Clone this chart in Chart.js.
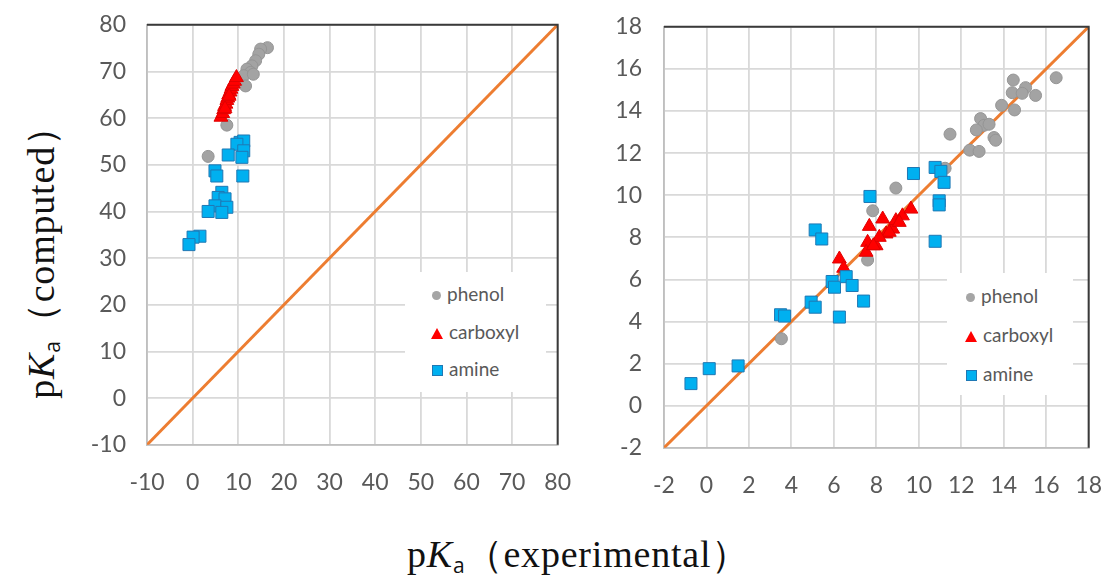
<!DOCTYPE html>
<html>
<head>
<meta charset="utf-8">
<script src="https://cdn.jsdelivr.net/npm/chart.js@4"></script>
<style>
  body { margin: 0; background: #fff; }
  #wrap { position: relative; width: 1107px; height: 579px; overflow: hidden; }
  canvas { position: absolute; top: 0; }
  .legend { position: absolute; background: #fff; font-family: Lato, sans-serif; font-size: 19px; color: #595959; z-index: 2; }
  .legend div { position: absolute; white-space: nowrap; line-height: 20px; }
  .mk { display: inline-block; vertical-align: middle; margin-right: 6px; position: relative; top: -1px; }
  .dot { width: 9px; height: 9px; border-radius: 50%; background: #a5a5a5; }
  .tri { width: 0; height: 0; border-left: 6px solid transparent; border-right: 6px solid transparent; border-bottom: 11px solid #ff0000; }
  .sq { width: 9px; height: 9px; background: #00b0f0; border: 1px solid #1f78b4; }
  .ttl { position: absolute; font-family: "Liberation Serif", serif; font-size: 38px; letter-spacing: 0.8px; line-height: 1; color: #111; white-space: nowrap; }
  .ttl sub { font-family: "Open Sans", sans-serif; font-size: 21px; vertical-align: -6px; letter-spacing: 0; }
</style>
</head>
<body>
<div id="wrap">
  <canvas id="left" width="500" height="520"></canvas>
  <canvas id="right" width="520" height="520"></canvas>

  <div class="legend" style="left:405px; top:272px; width:141px; height:120px">
    <div style="left:27px; top:12px"><span class="mk dot"></span>phenol</div>
    <div style="left:26px; top:50px"><span class="mk tri"></span>carboxyl</div>
    <div style="left:27px; top:87px"><span class="mk sq"></span>amine</div>
  </div>
  <div class="legend" style="left:947px; top:273px; width:126px; height:122px">
    <div style="left:19px; top:13px"><span class="mk dot"></span>phenol</div>
    <div style="left:18px; top:52px"><span class="mk tri"></span>carboxyl</div>
    <div style="left:19px; top:91px"><span class="mk sq"></span>amine</div>
  </div>

  <div class="ttl" style="left:407px; top:535px">p<i>K</i><sub>a</sub>（experimental）</div>
  <div class="ttl" style="left:42px; top:253px; transform: translate(-50%,-50%) rotate(-90deg)">p<i>K</i><sub>a</sub>（computed）</div>
</div>

<script>
// left panel
const leftPhenolX = [16.4, 14.9, 14.5, 13.8, 13.0, 11.9, 12.7, 11.2, 13.3, 11.6, 7.5, 3.4]
const leftPhenolY = [75.1, 74.8, 73.7, 72.3, 71.2, 70.5, 69.8, 69.1, 69.4, 66.9, 58.5, 51.8]
const leftCarboxylX = [6.2, 6.6, 6.8, 7.0, 7.3, 7.5, 7.7, 7.9, 8.2, 8.4, 8.6, 8.9, 9.2, 9.6, 7.1, 8.0]
const leftCarboxylY = [60.2, 61.0, 61.8, 62.5, 63.0, 63.8, 64.3, 65.0, 65.6, 66.2, 66.8, 67.3, 67.9, 68.7, 62.0, 64.7]
const leftAmineX = [10.4, 11.2, 9.7, 11.2, 10.8, 7.8, 11.0, 4.9, 5.3, 6.4, 5.6, 7.1, 4.9, 7.5, 6.4, 3.4, 1.6, 0.1, -0.8]
const leftAmineY = [54.8, 55.1, 54.4, 53.0, 51.6, 52.1, 47.6, 48.7, 47.6, 44.1, 43.0, 42.7, 41.2, 40.9, 39.8, 40.0, 34.7, 34.5, 32.9]

// right panel
const rightPhenolX = [16.47, 14.45, 15.03, 14.40, 14.87, 15.50, 13.90, 14.51, 12.91, 13.07, 13.31, 12.71, 13.54, 13.62, 11.47, 12.40, 12.84, 11.24, 8.92, 7.83, 7.59, 3.53]
const rightPhenolY = [15.58, 15.47, 15.11, 14.87, 14.84, 14.74, 14.27, 14.05, 13.64, 13.32, 13.37, 13.10, 12.74, 12.61, 12.90, 12.14, 12.08, 11.28, 10.34, 9.26, 6.92, 3.18]
const rightCarboxylX = [6.26, 6.46, 7.59, 7.52, 7.99, 8.46, 8.77, 7.67, 8.30, 8.92, 9.23, 9.63, 8.61, 8.14, 7.86, 9.08]
const rightCarboxylY = [6.97, 6.53, 7.76, 7.29, 7.60, 8.16, 8.39, 8.52, 8.87, 8.79, 9.02, 9.34, 8.24, 8.00, 7.60, 8.71]
const rightAmineX = [10.77, 11.04, 9.75, 11.19, 7.70, 10.96, 10.96, 5.12, 5.43, 10.77, 5.92, 6.03, 6.58, 6.86, 7.40, 4.93, 5.12, 6.26, 3.49, 3.68, 1.49, 0.13, -0.73]
const rightAmineY = [11.32, 11.13, 11.03, 10.61, 9.94, 9.73, 9.54, 8.35, 7.92, 7.81, 5.90, 5.63, 6.13, 5.71, 4.97, 4.92, 4.68, 4.21, 4.32, 4.26, 1.89, 1.76, 1.05]

const leftRange = [-10, 80]
const rightRange = [-2, 18]

const tickFont = { family: 'Lato', size: 23 }
const tickColor = '#595959'
const gridColor = '#d9d9d9'

function pts(xs, ys) {
    return xs.map((x, i) => ({ x: x, y: ys[i] }))
}

// dark frame on top + right of plot area
const frame = {
    id: 'frame',
    afterDatasetsDraw(chart) {
        const a = chart.chartArea, c = chart.ctx
        c.save()
        c.strokeStyle = '#3a3a3a'
        c.lineWidth = 2
        c.beginPath()
        c.moveTo(a.left, a.top)
        c.lineTo(a.right, a.top)
        c.lineTo(a.right, a.bottom)
        c.stroke()
        c.restore()
    }
}

function build(canvas, data, range, step, st) {
    const axis = (pad, fit) => ({
        type: 'linear',
        min: range[0],
        max: range[1],
        ticks: { stepSize: step, font: tickFont, color: tickColor, padding: pad },
        grid: { color: gridColor, lineWidth: 1.8, drawTicks: false },
        border: { color: '#bfbfbf', width: 1.8 },
        afterFit: fit
    })
    return new Chart(canvas, {
        type: 'scatter',
        data: {
            datasets: [
                {
                    label: 'y=x', data: [{ x: range[0], y: range[0] }, { x: range[1], y: range[1] }],
                    showLine: true, borderColor: '#ed7d31', borderWidth: 3, pointRadius: 0, order: 4
                },
                {
                    label: 'phenol', data: pts(data[0], data[1]), pointStyle: 'circle', pointRadius: 6,
                    backgroundColor: '#a3a3a3', borderColor: '#959595', borderWidth: 1, order: 3
                },
                {
                    label: 'carboxyl', data: pts(data[2], data[3]), pointStyle: 'triangle', pointRadius: 8,
                    backgroundColor: '#ff0000', borderColor: '#e00000', borderWidth: 1, order: 2
                },
                {
                    label: 'amine', data: pts(data[4], data[5]), pointStyle: 'rect', pointRadius: 8.5,
                    backgroundColor: '#00b0f0', borderColor: '#1f78b4', borderWidth: 1, order: 1
                }
            ]
        },
        options: {
            responsive: false,
            animation: false,
            layout: { padding: 0 },
            plugins: { legend: { display: false }, tooltip: { enabled: false } },
            scales: {
                x: axis(st.xPad, s => { s.height = st.xh }),
                y: axis(st.yPad, s => { s.width = st.yw })
            }
        },
        plugins: [frame]
    })
}

// build once, see where chart.js put the plot area, then move/resize the
// canvas so the plot area lands on the page box
function makeChart(id, data, range, step, st, want) {
    const canvas = document.getElementById(id)
    let chart = build(canvas, data, range, step, st)
    const a = chart.chartArea
    const W = canvas.width, H = canvas.height
    chart.destroy()
    const offX = want.left - a.left
    const offY = want.top - a.top
    canvas.width = Math.round(W + (want.right - want.left) - (a.right - a.left))
    canvas.height = H
    canvas.style.left = offX + 'px'
    canvas.style.top = offY + 'px'
    st.xh = offY + H - want.bottom
    return build(canvas, data, range, step, st)
}

makeChart('left',
    [leftPhenolX, leftPhenolY, leftCarboxylX, leftCarboxylY, leftAmineX, leftAmineY],
    leftRange, 10, { yw: 67, xh: 60, xPad: 24, yPad: 21 },
    { left: 147, top: 25, right: 558, bottom: 445 })

makeChart('right',
    [rightPhenolX, rightPhenolY, rightCarboxylX, rightCarboxylY, rightAmineX, rightAmineY],
    rightRange, 2, { yw: 74, xh: 60, xPad: 24, yPad: 22 },
    { left: 664, top: 27, right: 1089, bottom: 448 })
</script>
</body>
</html>
